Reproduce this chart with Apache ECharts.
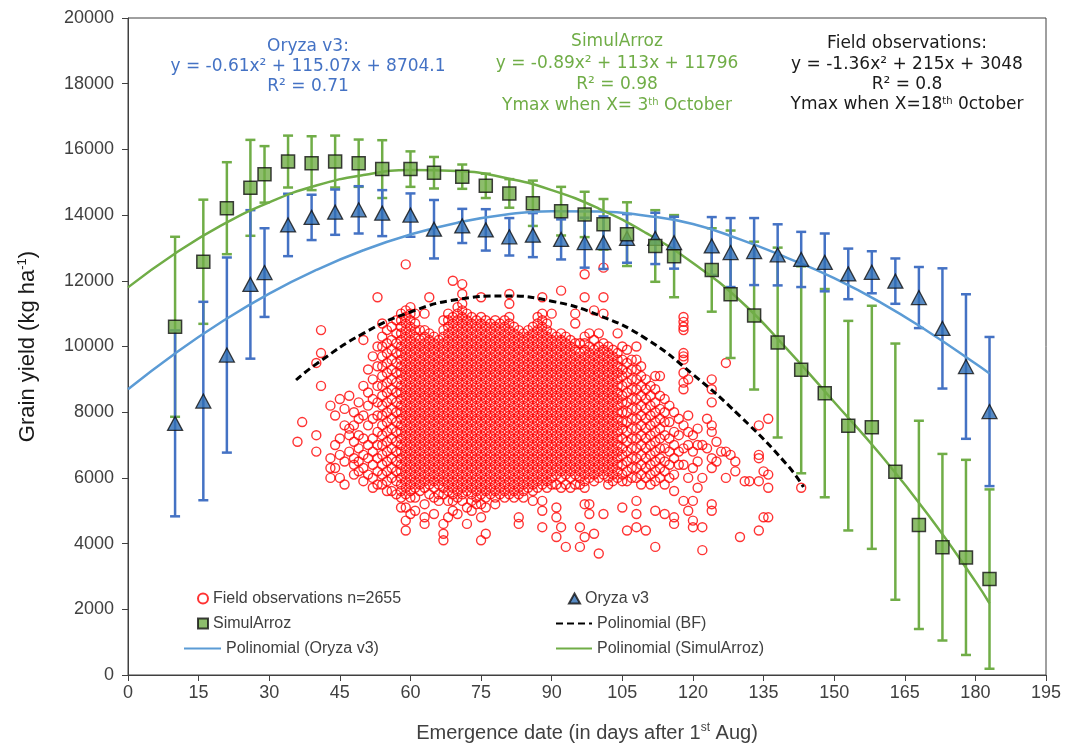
<!DOCTYPE html>
<html><head><meta charset="utf-8">
<script src="https://cdn.jsdelivr.net/npm/echarts/dist/echarts.min.js"></script>
<style>html,body{margin:0;padding:0;background:#fff}#c{width:1069px;height:749px}</style>
</head><body><div id="c"></div>
<script>
// ---- model simulations (days after 1st Aug) ----
const simDays = [10,16,21,26,29,34,39,44,49,54,60,65,71,76,81,86,92,97,101,106,112,116,124,128,133,138,143,148,153,158,163,168,173,178,183];
const simulArroz = [10600,12580,14210,14830,15240,15630,15580,15630,15580,15400,15400,15290,15170,14890,14660,14360,14120,14020,13720,13420,13060,12750,12330,11590,10940,10120,9290,8580,7590,7540,6190,4570,3890,3580,2920];
const simulErr = [2740,1890,1400,1460,860,790,820,790,720,880,540,480,370,370,435,690,740,690,770,970,1090,1250,1270,1940,2250,2890,3150,3170,3190,3700,3900,3170,2840,2970,2730];
const oryza = [7660,8340,9740,11890,12250,13700,13930,14090,14160,14060,14000,13570,13670,13550,13340,13390,13260,13160,13160,13290,13290,13160,13060,12860,12890,12790,12650,12560,12210,12260,11990,11490,10550,9390,8020];
const oryzaErr = [2830,3020,2970,2260,1350,950,690,690,720,700,660,890,520,630,570,670,610,760,800,740,780,790,880,1050,1020,930,840,880,770,640,690,930,1830,2200,2270];

// ---- polynomial trend lines ----
const trendDays = [0,10,20,30,40,50,60,70,80,90,100,110,120,130,140,150,160,170,180,183];
const oryzaTrend = [8700,9790,10760,11610,12330,12930,13410,13770,14010,14120,14110,13980,13730,13260,12700,12080,11330,10450,9480,9180];
const simulTrend = [11800,12830,13700,14390,14900,15220,15370,15340,15140,14760,14200,13460,12540,11400,9920,8310,6680,4870,2850,2180];
const bfDays = [35.7,40,50,60,70,80,90,100,110,120,130,140,143.5];
const bfTrend = [8980,9470,10400,11050,11430,11540,11380,10950,10240,9150,7880,6400,5720];

// ---- field observations: emergence day and yields (hundreds of kg/ha) ----
const obsDays = [36,37,40,41,43,44,45,46,47,48,49,50,51,52,53,
54,55,56,57,58,59,60,61,62,63,64,65,66,67,68,69,70,71,72,73,74,75,76,77,78,79,80,
81,82,83,84,85,86,87,88,89,90,91,92,93,94,95,96,97,98,99,100,101,102,103,104,105,
106,107,108,109,110,111,112,113,114,115,116,117,118,119,120,121,122,123,124,125,
126,127,128,129,130,131,132,134,135,136,143];
const obsYield100 = [
[71],[77],[95,73,68],[105,98,88],[82,66,63,60],[79,70,63],[84,72,67,60],[81,76,65,58],[85,75,73,68],
[80,76,71,66,64,61],[83,78,73,69,65,62],[102,88,79,72,67,63,59],[93,86,82,76,70,66,61],
[97,90,84,78,72,68,64,60,57],[115,100,94,88,83,79,74,70,66,62,58],
[107,103,100,97,94,91,88,85,82,79,76,73,70,67,64,61,58],
[105,101,98,95,92,89,86,83,80,77,74,71,68,65,62,59,56],
[106,102,99,96,93,90,87,84,81,78,75,72,69,66,63,60,56],
[108,104,101,98,95,92,89,86,83,80,77,74,71,68,65,62,59,55],
[110,108,106,104,102,100,98,96,94,92,90,88,86,84,82,80,78,76,74,72,70,68,66,64,62,60,58,56,54,51],
[125,111,109,107,105,103,101,99,97,95,93,91,89,87,85,83,81,79,77,75,73,71,69,67,65,63,61,59,57,55,51,47,44],
[112,110,108,106,104,102,100,98,96,94,92,90,88,86,84,82,80,78,76,74,72,70,68,66,64,62,60,58,56,54,49],
[110,107,105,103,101,99,97,95,93,91,89,87,85,83,81,79,77,75,73,71,69,67,65,63,61,59,57,54,50],
[105,102,100,98,96,94,92,90,88,86,84,82,80,78,76,74,72,70,68,66,64,62,60,58,56],
[110,105,103,101,99,97,95,93,91,89,87,85,83,81,79,77,75,73,71,69,67,65,63,61,59,57,52,48,46],
[115,104,102,100,98,96,94,92,90,88,86,84,82,80,78,76,74,72,70,68,66,64,62,60,58,55],
[103,101,99,97,95,93,91,89,87,85,83,81,79,77,75,73,71,69,67,65,63,61,59,57,54,49],
[102,100,98,96,94,92,90,88,86,84,82,80,78,76,74,72,70,68,66,64,62,60,58,55,53],
[108,105,103,101,99,97,95,93,91,89,87,85,83,81,79,77,75,73,71,69,67,65,63,61,59,57,55,46,43,41],
[110,108,106,104,102,100,98,96,94,92,90,88,86,84,82,80,78,76,74,72,70,68,66,64,62,60,58,56,53,48],
[120,109,107,105,103,101,99,97,95,93,91,89,87,85,83,81,79,77,75,73,71,69,67,65,63,61,59,57,55,53,50],
[112,110,108,106,104,102,100,98,96,94,92,90,88,86,84,82,80,78,76,74,72,70,68,66,64,62,60,58,56,54,49],
[119,116,113,111,109,107,105,103,101,99,97,95,93,91,89,87,85,83,81,79,77,75,73,71,69,67,65,63,61,59,57,55,53],
[110,108,106,104,102,100,98,96,94,92,90,88,86,84,82,80,78,76,74,72,70,68,66,64,62,60,58,56,51,46],
[109,107,105,103,101,99,97,95,93,91,89,87,85,83,81,79,77,75,73,71,69,67,65,63,61,59,57,55,53,50],
[108,106,104,102,100,98,96,94,92,90,88,86,84,82,80,78,76,74,72,70,68,66,64,62,60,58,56,54,52],
[115,109,107,105,103,101,99,97,95,93,91,89,87,85,83,81,79,77,75,73,71,69,67,65,63,61,59,57,55,52,48,41],
[108,106,104,102,100,98,96,94,92,90,88,86,84,82,80,78,76,74,72,70,68,66,64,62,60,58,56,54,51,43],
[107,105,103,101,99,97,95,93,91,89,87,85,83,81,79,77,75,73,71,69,67,65,63,61,59,57,55],
[108,106,104,102,100,98,96,94,92,90,88,86,84,82,80,78,76,74,72,70,68,66,64,62,60,58,56,54,52],
[107,105,103,101,99,97,95,93,91,89,87,85,83,81,79,77,75,73,71,69,67,65,63,61,59,57,55],
[108,106,104,102,100,98,96,94,92,90,88,86,84,82,80,78,76,74,72,70,68,66,64,62,60,58,56,54],
[116,113,109,107,105,103,101,99,97,95,93,91,89,87,85,83,81,79,77,75,73,71,69,67,65,63,61,59,57,55],
[106,104,102,100,98,96,94,92,90,88,86,84,82,80,78,76,74,72,70,68,66,64,62,60,58,56,54],
[105,103,101,99,97,95,93,91,89,87,85,83,81,79,77,75,73,71,69,67,65,63,61,59,57,55,48,46],
[104,102,100,98,96,94,92,90,88,86,84,82,80,78,76,74,72,70,68,66,64,62,60,58,56,54],
[105,103,101,99,97,95,93,91,89,87,85,83,81,79,77,75,73,71,69,67,65,63,61,59,57],
[106,104,102,100,98,96,94,92,90,88,86,84,82,80,78,76,74,72,70,68,66,64,62,60,58,56,53],
[109,107,105,103,101,99,97,95,93,91,89,87,85,83,81,79,77,75,73,71,69,67,65,63,61,59,57],
[115,110,108,106,104,102,100,98,96,94,92,90,88,86,84,82,80,78,76,74,72,70,68,66,64,62,60,58,53,50,45],
[107,105,103,101,99,97,95,93,91,89,87,85,83,81,79,77,75,73,71,69,67,65,63,61,59,57],
[110,104,102,100,98,96,94,92,90,88,86,84,82,80,78,76,74,72,70,68,66,64,62,60,58],
[103,101,99,97,95,93,91,89,87,85,83,81,79,77,75,73,71,69,67,65,63,61,58,51,48,42],
[117,104,102,100,98,96,94,92,90,88,86,84,82,80,78,76,74,72,70,68,66,64,62,60,57,45],
[103,101,99,97,95,93,91,89,87,85,83,81,79,77,75,73,71,69,67,65,63,61,58,39],
[102,100,98,96,94,92,90,88,86,84,82,80,78,76,74,72,70,68,66,64,62,60,57],
[110,107,101,99,97,95,93,91,89,87,85,83,81,79,77,75,73,71,69,67,65,63,61,58],
[101,98,96,94,92,90,88,86,84,82,80,78,76,74,72,70,68,66,64,62,60,58,45,39],
[122,115,103,101,99,97,95,93,91,89,87,85,83,81,79,77,75,73,71,69,67,65,63,61,59,57,52,42],
[104,100,98,96,94,92,90,88,86,84,82,80,78,76,74,72,70,68,66,64,62,60,52,49],
[111,102,99,97,95,93,91,89,87,85,83,81,79,77,75,73,71,69,67,65,63,61,59,43],
[104,100,98,96,94,92,90,88,86,84,82,80,78,76,74,72,70,68,66,64,62,60,37],
[124,115,110,101,99,97,95,93,91,89,87,85,83,81,79,77,75,73,71,69,67,65,63,61,49],
[100,98,96,94,92,90,88,86,84,82,80,78,76,74,72,70,68,66,64,62,60,58],
[99,97,95,93,91,89,87,85,83,81,79,77,75,73,71,69,67,65,63,61,59],
[104,98,96,94,92,90,88,86,84,82,80,78,76,74,72,70,68,66,64,62,60],
[100,96,93,91,88,85,83,80,77,75,72,69,67,64,61,59,51],
[99,95,92,89,86,83,80,77,74,71,68,65,62,59,44],
[96,93,90,87,84,81,78,75,72,69,66,63,60],
[100,96,93,90,87,84,81,78,75,72,69,66,63,60,53,49,45],
[94,91,88,85,82,79,76,73,70,67,64,61,58],
[90,87,84,81,78,75,72,69,66,63,60,44],
[88,85,82,79,76,73,70,67,64,61,58],
[91,87,83,80,77,74,71,68,65,62,59,50,39],
[91,85,81,78,75,72,69,66,63,60],
[84,80,77,73,69,65,62,58,49],
[82,77,72,68,64,60],
[80,74,70,66,61,56,48,46],
[78,73,68,64],
[109,107.5,106,105,98,97,96,92,89,87,76,69,64,53],
[90,79,74,70,60,50],
[73,68,63,53,47,45],
[75,70,65,57],
[70,60,45,38],
[78,69],
[90,87,83,76,74,66,63,52,50],
[71,65],[68],[95,68,60],[67],[65,62],[42],[59],[59],
[76,67,66,59,44],[62,48],[78,61,57,48],[57]
];

const xTicks = {min:0, max:195, step:15};
const yTicks = {min:0, max:20000, step:2000};

const obsData = [];
obsDays.forEach((d,i)=>obsYield100[i].forEach(v=>obsData.push([d, v*100])));
const zip = (a,b)=>a.map((d,i)=>[d,b[i]]);

function errSeries(vals, errs, color){
  return {
    type:'custom', silent:true, z:3,
    data: simDays.map((d,i)=>[d, vals[i], errs[i]]),
    encode:{x:0,y:1},
    renderItem(params, api){
      const x=api.value(0), y=api.value(1), e=api.value(2);
      const t=api.coord([x,y+e]), b=api.coord([x,y-e]);
      const w=5, st={stroke:color, lineWidth:2.5};
      return {type:'group', children:[
        {type:'line', shape:{x1:t[0],y1:t[1],x2:b[0],y2:b[1]}, style:st},
        {type:'line', shape:{x1:t[0]-w,y1:t[1],x2:t[0]+w,y2:t[1]}, style:st},
        {type:'line', shape:{x1:b[0]-w,y1:b[1],x2:b[0]+w,y2:b[1]}, style:st}
      ]};
    }
  };
}

const FF = 'Liberation Sans, Arial, sans-serif';
const AF = 'DejaVu Sans, Verdana, sans-serif';
function note(text, x, y, color){
  return {type:'text', z:50, style:{text, x, y, fill:color, fontSize:17, fontFamily:AF,
    align:'center', verticalAlign:'middle', textAlign:'center', textVerticalAlign:'middle',
    rich:{sup:{fontSize:10, verticalAlign:'top', lineHeight:10, fill:color, fontFamily:AF}}}};
}
const blueTxt='#4472C4', greenTxt='#70AD47', blackTxt='#1a1a1a';

const legendText = {fontSize:16, color:'#404040', fontFamily:FF, lineHeight:19};
const chart = echarts.init(document.getElementById('c'));
chart.setOption({
  animation:false,
  backgroundColor:'#fff',
  grid:{left:128, right:23, top:18, bottom:74, show:true, borderColor:'#404040', borderWidth:1},
  xAxis:{type:'value', min:xTicks.min, max:xTicks.max, interval:xTicks.step,
    axisLine:{lineStyle:{color:'#404040', width:1}},
    axisTick:{show:true, length:6, lineStyle:{color:'#404040'}},
    axisLabel:{fontSize:18, color:'#404040', fontFamily:FF, margin:9, formatter:v=>String(v)},
    splitLine:{show:false},
    name:'Emergence date (in days after 1{sup|st} Aug)', nameLocation:'middle', nameGap:47,
    nameTextStyle:{fontSize:20, color:'#404040', fontFamily:FF, lineHeight:22,
      rich:{sup:{fontSize:12, verticalAlign:'top', lineHeight:12, fontFamily:FF, color:'#404040'}}}},
  yAxis:{type:'value', min:yTicks.min, max:yTicks.max, interval:yTicks.step,
    axisLine:{show:true, lineStyle:{color:'#404040', width:1}},
    axisTick:{show:true, length:6, lineStyle:{color:'#404040'}},
    axisLabel:{fontSize:18, color:'#404040', fontFamily:FF, margin:14, formatter:v=>String(v)},
    splitLine:{show:false},
    name:'Grain yield (kg ha{sup|-1})', nameLocation:'middle', nameGap:88,
    nameTextStyle:{fontSize:22, color:'#1a1a1a', fontFamily:FF, lineHeight:24,
      rich:{sup:{fontSize:13, verticalAlign:'top', lineHeight:13, fontFamily:FF, color:'#1a1a1a'}}}},
  legend:[
    {data:['Field observations n=2655','SimulArroz'], orient:'vertical', left:192, top:584,
     itemWidth:10, itemHeight:10, itemGap:6, itemTextGap:18, selectedMode:false, textStyle:legendText},
    {data:['Polinomial (Oryza v3)'], orient:'vertical', left:178, top:634,
     itemWidth:37, itemHeight:10, itemTextGap:5, selectedMode:false, textStyle:legendText,
     itemStyle:{opacity:0}},
    {data:['Oryza v3'], orient:'vertical', left:563, top:584,
     itemWidth:11, itemHeight:10, itemTextGap:16, selectedMode:false, textStyle:legendText},
    {data:['Polinomial (BF)','Polinomial (SimulArroz)'], orient:'vertical', left:550, top:609,
     itemWidth:36, itemHeight:10, itemGap:6, itemTextGap:4, selectedMode:false, textStyle:legendText,
     itemStyle:{opacity:0}}
  ],
  graphic:[
    note('Oryza v3:', 308, 47, blueTxt),
    note('y = -0.61x² + 115.07x + 8704.1', 308, 67, blueTxt),
    note('R² = 0.71', 308, 87, blueTxt),
    note('SimulArroz', 617, 42, greenTxt),
    note('y = -0.89x² + 113x + 11796', 617, 64, greenTxt),
    note('R² = 0.98', 617, 85, greenTxt),
    note('Ymax when X= 3{sup|th} October', 617, 106, greenTxt),
    note('Field observations:', 907, 44, blackTxt),
    note('y = -1.36x² + 215x + 3048', 907, 65, blackTxt),
    note('R² = 0.8', 907, 85, blackTxt),
    note('Ymax when X=18{sup|th} 0ctober', 907, 105, blackTxt)
  ],
  series:[
    {name:'Field observations n=2655', type:'scatter', data:obsData, symbol:'circle', symbolSize:9, z:2,
     large:false, itemStyle:{color:'rgba(255,255,255,0)', borderColor:'#FF0000', borderWidth:1.4}},
    errSeries(simulArroz, simulErr, '#70AD47'),
    errSeries(oryza, oryzaErr, '#4472C4'),
    {name:'Polinomial (Oryza v3)', type:'line', data:zip(trendDays,oryzaTrend), smooth:true, symbol:'none', z:4,
     color:'#5B9BD5', lineStyle:{color:'#5B9BD5', width:2.5}},
    {name:'Polinomial (SimulArroz)', type:'line', data:zip(trendDays,simulTrend), smooth:true, symbol:'none', z:4,
     color:'#70AD47', lineStyle:{color:'#70AD47', width:2.5}},
    {name:'Polinomial (BF)', type:'line', data:zip(bfDays,bfTrend), smooth:true, symbol:'none', z:4,
     color:'#000', lineStyle:{color:'#000', width:3, type:[7,4]}},
    {name:'Oryza v3', type:'scatter', data:zip(simDays,oryza), symbol:'triangle', symbolSize:[15,14], z:5,
     itemStyle:{color:'#2E6DB4', borderColor:'#111', borderWidth:1.3}},
    {name:'SimulArroz', type:'scatter', data:zip(simDays,simulArroz), symbol:'rect', symbolSize:13, z:6,
     itemStyle:{color:'#70AD47', borderColor:'#111', borderWidth:1.5}}
  ]
});
</script>
</body></html>
